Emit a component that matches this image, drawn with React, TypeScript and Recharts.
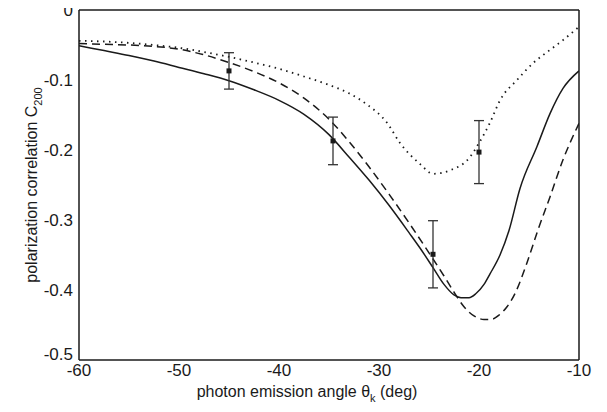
import React from "react";
import {
  ComposedChart,
  Line,
  Scatter,
  ErrorBar,
  XAxis,
  YAxis,
  Label,
} from "recharts";

// solid curve
const solidX = [-60, -57.5, -55, -52.5, -50, -47.5, -45, -42.5, -40, -37.5, -35, -33, -31, -29, -27, -25.9, -24.6, -23.5, -22.5, -21.8, -21, -20.3, -19.5, -18.9, -17.9, -17, -15.9, -14.2, -12.9, -11.6, -10];
const solidY = [-0.051, -0.058, -0.065, -0.073, -0.082, -0.091, -0.101, -0.114, -0.129, -0.149, -0.178, -0.21, -0.243, -0.279, -0.318, -0.34, -0.368, -0.392, -0.407, -0.411, -0.411, -0.405, -0.392, -0.377, -0.35, -0.315, -0.255, -0.195, -0.148, -0.112, -0.087];

// dashed curve
const dashX = [-60, -57.5, -55, -52.5, -50, -47.5, -45, -42.5, -40, -37.5, -35, -33, -31, -29, -27, -25, -23.5, -22.5, -21.5, -20.5, -19.5, -18.8, -18, -17.2, -16.4, -15.2, -14.1, -12.9, -11.6, -10];
const dashY = [-0.048, -0.049, -0.05, -0.052, -0.056, -0.064, -0.075, -0.088, -0.104, -0.126, -0.156, -0.188, -0.224, -0.263, -0.304, -0.347, -0.38, -0.403, -0.424, -0.437, -0.442, -0.442, -0.436, -0.424, -0.405, -0.361, -0.314, -0.267, -0.214, -0.162];

// dotted curve
const dotX = [-60, -57.5, -55, -52.5, -50, -47.5, -45, -42.5, -40, -37.5, -35, -33, -31.2, -29.2, -27.9, -25.9, -24.6, -22.9, -20.9, -20, -18.9, -17.9, -16.2, -14.6, -12.9, -11.6, -10];
const dotY = [-0.044, -0.045, -0.047, -0.05, -0.054, -0.06, -0.067, -0.075, -0.084, -0.095, -0.107, -0.119, -0.135, -0.161, -0.19, -0.22, -0.234, -0.229, -0.21, -0.19, -0.161, -0.129, -0.1, -0.076, -0.057, -0.043, -0.024];

// measured points with errors
const expX = [-45, -34.6, -24.6, -20];
const expY = [-0.087, -0.187, -0.349, -0.203];
const expErr = [0.026, 0.034, 0.048, 0.045];

const xTicks = [-60, -50, -40, -30, -20, -10];
const xInner = [-50, -40, -30, -20];
const yTicks = [0, -0.1, -0.2, -0.3, -0.4, -0.5];
const yInner = [-0.05, -0.1, -0.15, -0.2, -0.25, -0.3, -0.35, -0.4, -0.45];

const zip = (xs: number[], ys: number[]) => xs.map((x, i) => ({ x, y: ys[i] }));
const solid = zip(solidX, solidY);
const dashed = zip(dashX, dashY);
const dotted = zip(dotX, dotY);
const points = expX.map((x, i) => ({ x, y: expY[i], err: expErr[i] }));

const ink = "#1a1a1a";
const font = "'Liberation Sans', Arial, sans-serif";

const XTitle = ({ viewBox }: any) => (
  <text
    x={viewBox.x + viewBox.width / 2 - 22}
    y={viewBox.y + 37}
    textAnchor="middle"
    fontSize={16}
    fontFamily={font}
    fill={ink}
  >
    <tspan>photon emission angle θ</tspan>
    <tspan dy={5} fontSize={11}>k</tspan>
    <tspan dy={-5}> (deg)</tspan>
  </text>
);

const YTitle = ({ viewBox }: any) => {
  const x = viewBox.x + 29;
  const y = viewBox.y + viewBox.height / 2;
  return (
    <text
      x={x}
      y={y}
      transform={`rotate(-90 ${x} ${y})`}
      textAnchor="middle"
      fontSize={16}
      fontFamily={font}
      fill={ink}
    >
      <tspan>polarization correlation C</tspan>
      <tspan dy={5} fontSize={11}>200</tspan>
    </text>
  );
};

const YTick = ({ x, y, payload }: any) => (
  <text
    x={x}
    y={y}
    dy={payload.value === -0.5 ? 0 : 6}
    textAnchor="end"
    fontSize={17}
    fontFamily={font}
    fill={ink}
  >
    {payload.value === 0 ? "0" : String(payload.value)}
  </text>
);

const Square = (p: any) => (
  <rect x={p.cx - 2.5} y={p.cy - 2.5} width={5} height={5} fill={ink} />
);

export default function App() {
  const tickStyle = { fontSize: 17, fontFamily: font, fill: ink };
  return (
    <div style={{ marginTop: -8 }}>
      <ComposedChart
        width={599}
        height={412}
        margin={{ top: 10, right: 28, left: 0, bottom: 0 }}
      >
        <XAxis
          xAxisId="main"
          type="number"
          dataKey="x"
          domain={[-60, -10]}
          ticks={xTicks}
          interval={0}
          allowDataOverflow
          height={52}
          tickLine={false}
          tickSize={0}
          tickMargin={4}
          tick={tickStyle}
          axisLine={{ stroke: ink, strokeWidth: 1.5 }}
        >
          <Label content={XTitle} />
        </XAxis>
        <XAxis
          xAxisId="bottomTicks"
          type="number"
          domain={[-60, -10]}
          ticks={xInner}
          interval={0}
          allowDataOverflow
          mirror
          tick={false}
          tickSize={8}
          tickLine={{ stroke: ink, strokeWidth: 1.2 }}
          axisLine={false}
        />
        <XAxis
          xAxisId="top"
          orientation="top"
          type="number"
          domain={[-60, -10]}
          ticks={xInner}
          interval={0}
          allowDataOverflow
          mirror
          tick={false}
          tickSize={8}
          tickLine={{ stroke: ink, strokeWidth: 1.2 }}
          axisLine={{ stroke: ink, strokeWidth: 1.5 }}
        />
        <YAxis
          yAxisId="main"
          type="number"
          dataKey="y"
          domain={[-0.5, 0]}
          ticks={yTicks}
          interval={0}
          allowDataOverflow
          width={71}
          tickLine={false}
          tickSize={0}
          tickMargin={6}
          tick={<YTick />}
          axisLine={{ stroke: ink, strokeWidth: 1.5 }}
        >
          <Label content={YTitle} />
        </YAxis>
        <YAxis
          yAxisId="leftTicks"
          type="number"
          domain={[-0.5, 0]}
          ticks={yInner}
          interval={0}
          allowDataOverflow
          mirror
          tick={false}
          tickSize={8}
          tickLine={{ stroke: ink, strokeWidth: 1.2 }}
          axisLine={false}
        />
        <YAxis
          yAxisId="right"
          orientation="right"
          type="number"
          domain={[-0.5, 0]}
          ticks={yInner}
          interval={0}
          allowDataOverflow
          mirror
          tick={false}
          tickSize={8}
          tickLine={{ stroke: ink, strokeWidth: 1.2 }}
          axisLine={{ stroke: ink, strokeWidth: 1.5 }}
        />

        <Line
          xAxisId="main"
          yAxisId="main"
          data={dotted}
          dataKey="y"
          type="monotone"
          stroke={ink}
          strokeWidth={1.8}
          strokeDasharray="1.5 4.5"
          dot={false}
          isAnimationActive={false}
        />
        <Line
          xAxisId="main"
          yAxisId="main"
          data={dashed}
          dataKey="y"
          type="monotone"
          stroke={ink}
          strokeWidth={1.5}
          strokeDasharray="8 5"
          dot={false}
          isAnimationActive={false}
        />
        <Line
          xAxisId="main"
          yAxisId="main"
          data={solid}
          dataKey="y"
          type="monotone"
          stroke={ink}
          strokeWidth={1.5}
          dot={false}
          isAnimationActive={false}
        />
        <Scatter
          xAxisId="main"
          yAxisId="main"
          data={points}
          dataKey="y"
          shape={Square}
          isAnimationActive={false}
        >
          <ErrorBar
            dataKey="err"
            direction="y"
            width={5}
            stroke="#333"
            strokeWidth={1.3}
            isAnimationActive={false}
          />
        </Scatter>
      </ComposedChart>
    </div>
  );
}
